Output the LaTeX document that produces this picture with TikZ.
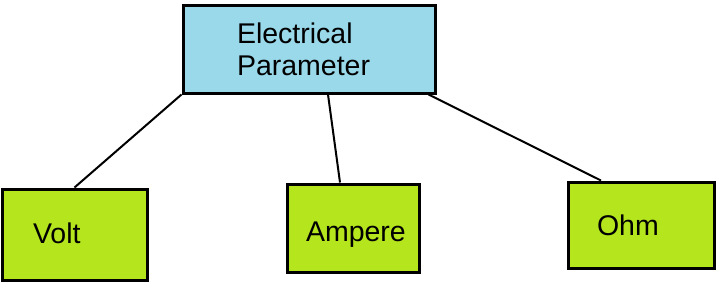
\documentclass[tikz,border=0pt]{standalone}
\usepackage{fontspec}
\setmainfont{Liberation Sans}
\usepackage{xcolor}
\usepackage{tikz}
\usetikzlibrary{positioning, calc}
\definecolor{paramblue}{RGB}{153, 217, 234}
\definecolor{unitgreen}{RGB}{181, 230, 29}

\begin{document}
\begin{tikzpicture}[x=1pt, y=-1pt,
  bx/.style={rectangle, draw=black, line width=3pt,
    font=\fontsize{28.5pt}{32pt}\selectfont,
    align=left, inner ysep=0pt},
  conn/.style={line width=2pt, color=black}
]
\useasboundingbox (0,0) rectangle (721,289);
\node[bx, fill=paramblue, minimum width=252pt, minimum height=88pt,
      inner xsep=54pt, text width=144pt]
  at (309, 49)    (param)  {Electrical\\Parameter};
\node[bx, fill=unitgreen, minimum width=145pt, minimum height=91pt,
      inner xsep=31pt, text width=83pt, text height=23pt, text depth=6pt]
  at (74.5, 234.5) (volt)   {Volt};
\node[bx, fill=unitgreen, minimum width=132pt, minimum height=88pt,
      inner xsep=19pt, text width=94pt, text height=32pt, text depth=6pt]
  at (353, 228)   (ampere) {Ampere};
\node[bx, fill=unitgreen, minimum width=146pt, minimum height=86pt,
      inner xsep=29pt, text width=88pt, text height=26pt, text depth=6pt]
  at (641, 225)   (ohm)    {Ohm};
\draw[conn] (param.south west) -- (volt.north);
\draw[conn] ([xshift=19pt]param.south) -- ([xshift=-13pt]ampere.north);
\draw[conn] ([xshift=-8pt]param.south east) -- ([xshift=-40pt]ohm.north);
\end{tikzpicture}
\end{document}
